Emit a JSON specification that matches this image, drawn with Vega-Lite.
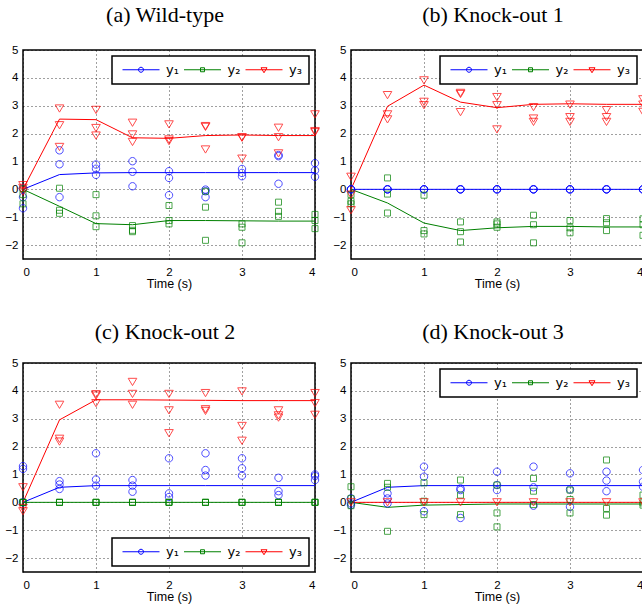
{
"$schema": "https://vega.github.io/schema/vega-lite/v6.json",
"background": "white",
"padding": {"left": 4, "top": 3, "right": 5, "bottom": 5},
"bounds": "flush",
"columns": 2,
"spacing": {"row": 104, "column": 36},
"config": {
  "view": {"stroke": "black", "strokeWidth": 1.5},
  "axis": {"grid": true, "gridColor": "black", "gridDash": [1, 3], "gridOpacity": 0.75, "gridWidth": 1, "ticks": false, "domain": false, "labelFont": "Liberation Sans", "labelFontSize": 11.5, "labelColor": "black", "titleFont": "Liberation Sans", "titleFontSize": 12.5, "titleFontWeight": "normal", "titleColor": "black", "labelOverlap": false},
  "axisX": {"labelPadding": 7, "titlePadding": 0},
  "axisY": {"labelPadding": 5},
  "title": {"font": "Liberation Serif", "fontSize": 22, "fontWeight": "normal", "color": "black", "frame": "group", "anchor": "middle", "baseline": "alphabetic", "dx": -4},
  "legend": {"title": null, "direction": "horizontal", "padding": 7, "strokeColor": "black", "strokeWidth": 1.5, "fillColor": "white", "symbolSize": 25, "symbolStrokeWidth": 1, "symbolFillColor": "transparent", "labelOffset": 34, "columnPadding": 1.5, "labelFont": "DejaVu Sans", "labelFontSize": 13, "labelColor": "black", "offset": 6, "zindex": 1}
},
"datasets": {
"fit": [
{"p":"a","s":"y1","t":0,"v":0},{"p":"a","s":"y1","t":0.5,"v":0.53},{"p":"a","s":"y1","t":1,"v":0.59},{"p":"a","s":"y1","t":1.5,"v":0.6},{"p":"a","s":"y1","t":2,"v":0.6},{"p":"a","s":"y1","t":2.5,"v":0.6},{"p":"a","s":"y1","t":3,"v":0.6},{"p":"a","s":"y1","t":3.5,"v":0.6},{"p":"a","s":"y1","t":4,"v":0.6},
{"p":"a","s":"y2","t":0,"v":0},{"p":"a","s":"y2","t":0.5,"v":-0.61},{"p":"a","s":"y2","t":1,"v":-1.23},{"p":"a","s":"y2","t":1.5,"v":-1.27},{"p":"a","s":"y2","t":2,"v":-1.12},{"p":"a","s":"y2","t":2.5,"v":-1.12},{"p":"a","s":"y2","t":3,"v":-1.13},{"p":"a","s":"y2","t":3.5,"v":-1.14},{"p":"a","s":"y2","t":4,"v":-1.14},
{"p":"a","s":"y3","t":0,"v":0},{"p":"a","s":"y3","t":0.5,"v":2.52},{"p":"a","s":"y3","t":1,"v":2.5},{"p":"a","s":"y3","t":1.5,"v":1.85},{"p":"a","s":"y3","t":2,"v":1.83},{"p":"a","s":"y3","t":2.5,"v":1.93},{"p":"a","s":"y3","t":3,"v":1.95},{"p":"a","s":"y3","t":3.5,"v":1.93},{"p":"a","s":"y3","t":4,"v":1.93},
{"p":"b","s":"y1","t":0,"v":0},{"p":"b","s":"y1","t":0.5,"v":0},{"p":"b","s":"y1","t":1,"v":0},{"p":"b","s":"y1","t":1.5,"v":0},{"p":"b","s":"y1","t":2,"v":0},{"p":"b","s":"y1","t":2.5,"v":0},{"p":"b","s":"y1","t":3,"v":0},{"p":"b","s":"y1","t":3.5,"v":0},{"p":"b","s":"y1","t":4,"v":0},
{"p":"b","s":"y2","t":0,"v":0},{"p":"b","s":"y2","t":0.5,"v":-0.49},{"p":"b","s":"y2","t":1,"v":-1.21},{"p":"b","s":"y2","t":1.5,"v":-1.48},{"p":"b","s":"y2","t":2,"v":-1.38},{"p":"b","s":"y2","t":2.5,"v":-1.33},{"p":"b","s":"y2","t":3,"v":-1.33},{"p":"b","s":"y2","t":3.5,"v":-1.35},{"p":"b","s":"y2","t":4,"v":-1.35},
{"p":"b","s":"y3","t":0,"v":0},{"p":"b","s":"y3","t":0.5,"v":2.98},{"p":"b","s":"y3","t":1,"v":3.74},{"p":"b","s":"y3","t":1.5,"v":3.13},{"p":"b","s":"y3","t":2,"v":2.93},{"p":"b","s":"y3","t":2.5,"v":3.05},{"p":"b","s":"y3","t":3,"v":3.07},{"p":"b","s":"y3","t":3.5,"v":3.05},{"p":"b","s":"y3","t":4,"v":3.05},
{"p":"c","s":"y1","t":0,"v":0},{"p":"c","s":"y1","t":0.5,"v":0.54},{"p":"c","s":"y1","t":1,"v":0.6},{"p":"c","s":"y1","t":1.5,"v":0.6},{"p":"c","s":"y1","t":2,"v":0.6},{"p":"c","s":"y1","t":2.5,"v":0.6},{"p":"c","s":"y1","t":3,"v":0.6},{"p":"c","s":"y1","t":3.5,"v":0.6},{"p":"c","s":"y1","t":4,"v":0.6},
{"p":"c","s":"y2","t":0,"v":0},{"p":"c","s":"y2","t":0.5,"v":0},{"p":"c","s":"y2","t":1,"v":0},{"p":"c","s":"y2","t":1.5,"v":0},{"p":"c","s":"y2","t":2,"v":0},{"p":"c","s":"y2","t":2.5,"v":0},{"p":"c","s":"y2","t":3,"v":0},{"p":"c","s":"y2","t":3.5,"v":0},{"p":"c","s":"y2","t":4,"v":0},
{"p":"c","s":"y3","t":0,"v":0},{"p":"c","s":"y3","t":0.5,"v":2.96},{"p":"c","s":"y3","t":1,"v":3.68},{"p":"c","s":"y3","t":1.5,"v":3.68},{"p":"c","s":"y3","t":2,"v":3.67},{"p":"c","s":"y3","t":2.5,"v":3.66},{"p":"c","s":"y3","t":3,"v":3.65},{"p":"c","s":"y3","t":3.5,"v":3.65},{"p":"c","s":"y3","t":4,"v":3.65},
{"p":"d","s":"y1","t":0,"v":0},{"p":"d","s":"y1","t":0.5,"v":0.54},{"p":"d","s":"y1","t":1,"v":0.6},{"p":"d","s":"y1","t":1.5,"v":0.6},{"p":"d","s":"y1","t":2,"v":0.6},{"p":"d","s":"y1","t":2.5,"v":0.6},{"p":"d","s":"y1","t":3,"v":0.6},{"p":"d","s":"y1","t":3.5,"v":0.6},{"p":"d","s":"y1","t":4,"v":0.6},
{"p":"d","s":"y2","t":0,"v":0},{"p":"d","s":"y2","t":0.5,"v":-0.18},{"p":"d","s":"y2","t":1,"v":-0.1},{"p":"d","s":"y2","t":1.5,"v":-0.08},{"p":"d","s":"y2","t":2,"v":-0.06},{"p":"d","s":"y2","t":2.5,"v":-0.06},{"p":"d","s":"y2","t":3,"v":-0.06},{"p":"d","s":"y2","t":3.5,"v":-0.06},{"p":"d","s":"y2","t":4,"v":-0.06},
{"p":"d","s":"y3","t":0,"v":0},{"p":"d","s":"y3","t":0.5,"v":0},{"p":"d","s":"y3","t":1,"v":0},{"p":"d","s":"y3","t":1.5,"v":0},{"p":"d","s":"y3","t":2,"v":0},{"p":"d","s":"y3","t":2.5,"v":0},{"p":"d","s":"y3","t":3,"v":0},{"p":"d","s":"y3","t":3.5,"v":0},{"p":"d","s":"y3","t":4,"v":0}
],
"pts": [
{"p":"a","s":"y1","t":0,"v":0.03},{"p":"a","s":"y1","t":0,"v":-0.28},{"p":"a","s":"y1","t":0,"v":-0.68},
{"p":"a","s":"y1","t":0.5,"v":1.4},{"p":"a","s":"y1","t":0.5,"v":0.9},{"p":"a","s":"y1","t":0.5,"v":-0.28},
{"p":"a","s":"y1","t":1,"v":0.89},{"p":"a","s":"y1","t":1,"v":0.74},{"p":"a","s":"y1","t":1,"v":0.52},
{"p":"a","s":"y1","t":1.5,"v":1.01},{"p":"a","s":"y1","t":1.5,"v":0.63},{"p":"a","s":"y1","t":1.5,"v":0.11},
{"p":"a","s":"y1","t":2,"v":0.65},{"p":"a","s":"y1","t":2,"v":0.41},{"p":"a","s":"y1","t":2,"v":-0.21},
{"p":"a","s":"y1","t":2.5,"v":-0.01},{"p":"a","s":"y1","t":2.5,"v":-0.07},{"p":"a","s":"y1","t":2.5,"v":-0.28},
{"p":"a","s":"y1","t":3,"v":0.73},{"p":"a","s":"y1","t":3,"v":0.59},{"p":"a","s":"y1","t":3,"v":0.47},
{"p":"a","s":"y1","t":3.5,"v":1.23},{"p":"a","s":"y1","t":3.5,"v":1.19},{"p":"a","s":"y1","t":3.5,"v":0.2},
{"p":"a","s":"y1","t":4,"v":0.94},{"p":"a","s":"y1","t":4,"v":0.68},{"p":"a","s":"y1","t":4,"v":0.45},
{"p":"a","s":"y2","t":0,"v":0.02},{"p":"a","s":"y2","t":0,"v":-0.19},{"p":"a","s":"y2","t":0,"v":-0.52},
{"p":"a","s":"y2","t":0.5,"v":0.04},{"p":"a","s":"y2","t":0.5,"v":-0.75},{"p":"a","s":"y2","t":0.5,"v":-0.86},
{"p":"a","s":"y2","t":1,"v":-0.19},{"p":"a","s":"y2","t":1,"v":-0.95},{"p":"a","s":"y2","t":1,"v":-1.34},
{"p":"a","s":"y2","t":1.5,"v":-1.3},{"p":"a","s":"y2","t":1.5,"v":-1.47},{"p":"a","s":"y2","t":1.5,"v":-1.52},
{"p":"a","s":"y2","t":2,"v":-0.58},{"p":"a","s":"y2","t":2,"v":-1.12},{"p":"a","s":"y2","t":2,"v":-1.24},
{"p":"a","s":"y2","t":2.5,"v":-0.07},{"p":"a","s":"y2","t":2.5,"v":-0.64},{"p":"a","s":"y2","t":2.5,"v":-1.83},
{"p":"a","s":"y2","t":3,"v":-1.24},{"p":"a","s":"y2","t":3,"v":-1.36},{"p":"a","s":"y2","t":3,"v":-1.92},
{"p":"a","s":"y2","t":3.5,"v":-0.46},{"p":"a","s":"y2","t":3.5,"v":-0.79},{"p":"a","s":"y2","t":3.5,"v":-0.97},
{"p":"a","s":"y2","t":4,"v":-0.9},{"p":"a","s":"y2","t":4,"v":-1.12},{"p":"a","s":"y2","t":4,"v":-1.41},
{"p":"a","s":"y3","t":0,"v":0.15},{"p":"a","s":"y3","t":0,"v":0.05},{"p":"a","s":"y3","t":0,"v":-0.08},
{"p":"a","s":"y3","t":0.5,"v":2.9},{"p":"a","s":"y3","t":0.5,"v":2.3},{"p":"a","s":"y3","t":0.5,"v":1.52},
{"p":"a","s":"y3","t":1,"v":2.85},{"p":"a","s":"y3","t":1,"v":2.2},{"p":"a","s":"y3","t":1,"v":1.93},
{"p":"a","s":"y3","t":1.5,"v":2.39},{"p":"a","s":"y3","t":1.5,"v":1.97},{"p":"a","s":"y3","t":1.5,"v":1.7},
{"p":"a","s":"y3","t":2,"v":2.33},{"p":"a","s":"y3","t":2,"v":1.79},{"p":"a","s":"y3","t":2,"v":1.73},
{"p":"a","s":"y3","t":2.5,"v":2.27},{"p":"a","s":"y3","t":2.5,"v":2.24},{"p":"a","s":"y3","t":2.5,"v":1.43},
{"p":"a","s":"y3","t":3,"v":1.87},{"p":"a","s":"y3","t":3,"v":1.85},{"p":"a","s":"y3","t":3,"v":1.1},
{"p":"a","s":"y3","t":3.5,"v":2.21},{"p":"a","s":"y3","t":3.5,"v":1.87},{"p":"a","s":"y3","t":3.5,"v":1.29},
{"p":"a","s":"y3","t":4,"v":2.69},{"p":"a","s":"y3","t":4,"v":2.09},{"p":"a","s":"y3","t":4,"v":2.05},
{"p":"b","s":"y1","t":0,"v":0},{"p":"b","s":"y1","t":0,"v":0},{"p":"b","s":"y1","t":0,"v":0},
{"p":"b","s":"y1","t":0.5,"v":0},{"p":"b","s":"y1","t":0.5,"v":0},{"p":"b","s":"y1","t":0.5,"v":0},
{"p":"b","s":"y1","t":1,"v":0},{"p":"b","s":"y1","t":1,"v":0},{"p":"b","s":"y1","t":1,"v":0},
{"p":"b","s":"y1","t":1.5,"v":0},{"p":"b","s":"y1","t":1.5,"v":0},{"p":"b","s":"y1","t":1.5,"v":0},
{"p":"b","s":"y1","t":2,"v":0},{"p":"b","s":"y1","t":2,"v":0},{"p":"b","s":"y1","t":2,"v":0},
{"p":"b","s":"y1","t":2.5,"v":0},{"p":"b","s":"y1","t":2.5,"v":0},{"p":"b","s":"y1","t":2.5,"v":0},
{"p":"b","s":"y1","t":3,"v":0},{"p":"b","s":"y1","t":3,"v":0},{"p":"b","s":"y1","t":3,"v":0},
{"p":"b","s":"y1","t":3.5,"v":0},{"p":"b","s":"y1","t":3.5,"v":0},{"p":"b","s":"y1","t":3.5,"v":0},
{"p":"b","s":"y1","t":4,"v":0},{"p":"b","s":"y1","t":4,"v":0},{"p":"b","s":"y1","t":4,"v":0},
{"p":"b","s":"y2","t":0,"v":-0.19},{"p":"b","s":"y2","t":0,"v":-0.43},{"p":"b","s":"y2","t":0,"v":-0.52},
{"p":"b","s":"y2","t":0.5,"v":0.41},{"p":"b","s":"y2","t":0.5,"v":-0.17},{"p":"b","s":"y2","t":0.5,"v":-0.85},
{"p":"b","s":"y2","t":1,"v":-0.21},{"p":"b","s":"y2","t":1,"v":-1.48},{"p":"b","s":"y2","t":1,"v":-1.6},
{"p":"b","s":"y2","t":1.5,"v":-1.17},{"p":"b","s":"y2","t":1.5,"v":-1.52},{"p":"b","s":"y2","t":1.5,"v":-1.89},
{"p":"b","s":"y2","t":2,"v":-1.17},{"p":"b","s":"y2","t":2,"v":-1.24},{"p":"b","s":"y2","t":2,"v":-1.36},
{"p":"b","s":"y2","t":2.5,"v":-0.93},{"p":"b","s":"y2","t":2.5,"v":-1.27},{"p":"b","s":"y2","t":2.5,"v":-1.92},
{"p":"b","s":"y2","t":3,"v":-1.12},{"p":"b","s":"y2","t":3,"v":-1.38},{"p":"b","s":"y2","t":3,"v":-1.56},
{"p":"b","s":"y2","t":3.5,"v":-1.05},{"p":"b","s":"y2","t":3.5,"v":-1.2},{"p":"b","s":"y2","t":3.5,"v":-1.48},
{"p":"b","s":"y2","t":4,"v":-1.06},{"p":"b","s":"y2","t":4,"v":-1.27},{"p":"b","s":"y2","t":4,"v":-1.65},
{"p":"b","s":"y3","t":0,"v":0.45},{"p":"b","s":"y3","t":0,"v":-0.19},{"p":"b","s":"y3","t":0,"v":-0.75},
{"p":"b","s":"y3","t":0.5,"v":3.38},{"p":"b","s":"y3","t":0.5,"v":2.69},{"p":"b","s":"y3","t":0.5,"v":2.51},
{"p":"b","s":"y3","t":1,"v":3.91},{"p":"b","s":"y3","t":1,"v":3.14},{"p":"b","s":"y3","t":1,"v":3.02},
{"p":"b","s":"y3","t":1.5,"v":3.46},{"p":"b","s":"y3","t":1.5,"v":3.42},{"p":"b","s":"y3","t":1.5,"v":2.77},
{"p":"b","s":"y3","t":2,"v":3.31},{"p":"b","s":"y3","t":2,"v":3.02},{"p":"b","s":"y3","t":2,"v":2.15},
{"p":"b","s":"y3","t":2.5,"v":2.95},{"p":"b","s":"y3","t":2.5,"v":2.54},{"p":"b","s":"y3","t":2.5,"v":2.42},
{"p":"b","s":"y3","t":3,"v":3.04},{"p":"b","s":"y3","t":3,"v":2.59},{"p":"b","s":"y3","t":3,"v":2.42},
{"p":"b","s":"y3","t":3.5,"v":2.84},{"p":"b","s":"y3","t":3.5,"v":2.59},{"p":"b","s":"y3","t":3.5,"v":2.42},
{"p":"b","s":"y3","t":4,"v":3.23},{"p":"b","s":"y3","t":4,"v":3.04},{"p":"b","s":"y3","t":4,"v":2.78},
{"p":"c","s":"y1","t":0,"v":1.3},{"p":"c","s":"y1","t":0,"v":1.2},{"p":"c","s":"y1","t":0,"v":0},
{"p":"c","s":"y1","t":0.5,"v":0.76},{"p":"c","s":"y1","t":0.5,"v":0.64},{"p":"c","s":"y1","t":0.5,"v":0.48},
{"p":"c","s":"y1","t":1,"v":1.76},{"p":"c","s":"y1","t":1,"v":0.82},{"p":"c","s":"y1","t":1,"v":0.6},
{"p":"c","s":"y1","t":1.5,"v":0.8},{"p":"c","s":"y1","t":1.5,"v":0.6},{"p":"c","s":"y1","t":1.5,"v":0.38},
{"p":"c","s":"y1","t":2,"v":1.58},{"p":"c","s":"y1","t":2,"v":0.32},{"p":"c","s":"y1","t":2,"v":0.19},
{"p":"c","s":"y1","t":2.5,"v":1.76},{"p":"c","s":"y1","t":2.5,"v":1.16},{"p":"c","s":"y1","t":2.5,"v":0.96},
{"p":"c","s":"y1","t":3,"v":1.58},{"p":"c","s":"y1","t":3,"v":1.22},{"p":"c","s":"y1","t":3,"v":0.96},
{"p":"c","s":"y1","t":3.5,"v":0.88},{"p":"c","s":"y1","t":3.5,"v":0.4},{"p":"c","s":"y1","t":3.5,"v":0.26},
{"p":"c","s":"y1","t":4,"v":1.0},{"p":"c","s":"y1","t":4,"v":0.94},{"p":"c","s":"y1","t":4,"v":0.8},
{"p":"c","s":"y2","t":0,"v":0},{"p":"c","s":"y2","t":0,"v":0},{"p":"c","s":"y2","t":0,"v":0},
{"p":"c","s":"y2","t":0.5,"v":0},{"p":"c","s":"y2","t":0.5,"v":0},{"p":"c","s":"y2","t":0.5,"v":0},
{"p":"c","s":"y2","t":1,"v":0},{"p":"c","s":"y2","t":1,"v":0},{"p":"c","s":"y2","t":1,"v":0},
{"p":"c","s":"y2","t":1.5,"v":0},{"p":"c","s":"y2","t":1.5,"v":0},{"p":"c","s":"y2","t":1.5,"v":0},
{"p":"c","s":"y2","t":2,"v":0},{"p":"c","s":"y2","t":2,"v":0},{"p":"c","s":"y2","t":2,"v":0},
{"p":"c","s":"y2","t":2.5,"v":0},{"p":"c","s":"y2","t":2.5,"v":0},{"p":"c","s":"y2","t":2.5,"v":0},
{"p":"c","s":"y2","t":3,"v":0},{"p":"c","s":"y2","t":3,"v":0},{"p":"c","s":"y2","t":3,"v":0},
{"p":"c","s":"y2","t":3.5,"v":0},{"p":"c","s":"y2","t":3.5,"v":0},{"p":"c","s":"y2","t":3.5,"v":0},
{"p":"c","s":"y2","t":4,"v":0},{"p":"c","s":"y2","t":4,"v":0},{"p":"c","s":"y2","t":4,"v":0},
{"p":"c","s":"y3","t":0,"v":0.54},{"p":"c","s":"y3","t":0,"v":-0.2},{"p":"c","s":"y3","t":0,"v":-0.32},
{"p":"c","s":"y3","t":0.5,"v":3.5},{"p":"c","s":"y3","t":0.5,"v":2.28},{"p":"c","s":"y3","t":0.5,"v":2.18},
{"p":"c","s":"y3","t":1,"v":3.88},{"p":"c","s":"y3","t":1,"v":3.83},{"p":"c","s":"y3","t":1,"v":3.56},
{"p":"c","s":"y3","t":1.5,"v":4.32},{"p":"c","s":"y3","t":1.5,"v":3.89},{"p":"c","s":"y3","t":1.5,"v":3.5},
{"p":"c","s":"y3","t":2,"v":3.89},{"p":"c","s":"y3","t":2,"v":3.3},{"p":"c","s":"y3","t":2,"v":2.48},
{"p":"c","s":"y3","t":2.5,"v":3.92},{"p":"c","s":"y3","t":2.5,"v":3.34},{"p":"c","s":"y3","t":2.5,"v":3.28},
{"p":"c","s":"y3","t":3,"v":3.98},{"p":"c","s":"y3","t":3,"v":2.74},{"p":"c","s":"y3","t":3,"v":2.21},
{"p":"c","s":"y3","t":3.5,"v":3.3},{"p":"c","s":"y3","t":3.5,"v":3.12},{"p":"c","s":"y3","t":3.5,"v":3.04},
{"p":"c","s":"y3","t":4,"v":3.92},{"p":"c","s":"y3","t":4,"v":3.56},{"p":"c","s":"y3","t":4,"v":3.14},
{"p":"d","s":"y1","t":0,"v":0.14},{"p":"d","s":"y1","t":0,"v":-0.04},{"p":"d","s":"y1","t":0,"v":-0.1},
{"p":"d","s":"y1","t":0.5,"v":0.32},{"p":"d","s":"y1","t":0.5,"v":0.14},{"p":"d","s":"y1","t":0.5,"v":-0.04},
{"p":"d","s":"y1","t":1,"v":1.28},{"p":"d","s":"y1","t":1,"v":0.92},{"p":"d","s":"y1","t":1,"v":-0.32},
{"p":"d","s":"y1","t":1.5,"v":0.5},{"p":"d","s":"y1","t":1.5,"v":0.44},{"p":"d","s":"y1","t":1.5,"v":-0.56},
{"p":"d","s":"y1","t":2,"v":1.1},{"p":"d","s":"y1","t":2,"v":0.62},{"p":"d","s":"y1","t":2,"v":0.44},
{"p":"d","s":"y1","t":2.5,"v":1.28},{"p":"d","s":"y1","t":2.5,"v":0.54},{"p":"d","s":"y1","t":2.5,"v":-0.12},
{"p":"d","s":"y1","t":3,"v":1.04},{"p":"d","s":"y1","t":3,"v":0.46},{"p":"d","s":"y1","t":3,"v":-0.16},
{"p":"d","s":"y1","t":3.5,"v":1.1},{"p":"d","s":"y1","t":3.5,"v":0.78},{"p":"d","s":"y1","t":3.5,"v":0.4},
{"p":"d","s":"y1","t":4,"v":1.16},{"p":"d","s":"y1","t":4,"v":0.74},{"p":"d","s":"y1","t":4,"v":0.56},
{"p":"d","s":"y2","t":0,"v":0.56},{"p":"d","s":"y2","t":0,"v":0.14},{"p":"d","s":"y2","t":0,"v":-0.12},
{"p":"d","s":"y2","t":0.5,"v":0.68},{"p":"d","s":"y2","t":0.5,"v":0.54},{"p":"d","s":"y2","t":0.5,"v":-1.04},
{"p":"d","s":"y2","t":1,"v":0.7},{"p":"d","s":"y2","t":1,"v":0.04},{"p":"d","s":"y2","t":1,"v":-0.44},
{"p":"d","s":"y2","t":1.5,"v":0.8},{"p":"d","s":"y2","t":1.5,"v":0.26},{"p":"d","s":"y2","t":1.5,"v":-0.44},
{"p":"d","s":"y2","t":2,"v":0.62},{"p":"d","s":"y2","t":2,"v":-0.38},{"p":"d","s":"y2","t":2,"v":-0.88},
{"p":"d","s":"y2","t":2.5,"v":0.86},{"p":"d","s":"y2","t":2.5,"v":0.4},{"p":"d","s":"y2","t":2.5,"v":-0.08},
{"p":"d","s":"y2","t":3,"v":0.44},{"p":"d","s":"y2","t":3,"v":0.1},{"p":"d","s":"y2","t":3,"v":-0.38},
{"p":"d","s":"y2","t":3.5,"v":1.52},{"p":"d","s":"y2","t":3.5,"v":-0.22},{"p":"d","s":"y2","t":3.5,"v":-0.46},
{"p":"d","s":"y2","t":4,"v":0.26},{"p":"d","s":"y2","t":4,"v":-0.1},{"p":"d","s":"y2","t":4,"v":-0.02},
{"p":"d","s":"y3","t":0,"v":0},{"p":"d","s":"y3","t":0.5,"v":0},{"p":"d","s":"y3","t":1,"v":0},{"p":"d","s":"y3","t":1.5,"v":0},{"p":"d","s":"y3","t":2,"v":0},{"p":"d","s":"y3","t":2.5,"v":0},{"p":"d","s":"y3","t":3,"v":0},{"p":"d","s":"y3","t":3.5,"v":0},{"p":"d","s":"y3","t":4,"v":0}
]
},
"concat": [
{
  "width": 292, "height": 209,
  "title": {"text": "(a) Wild-type", "offset": 17},
  "resolve": {"scale": {"color": "independent", "shape": "independent"}},
  "encoding": {
    "x": {"field": "t", "type": "quantitative", "scale": {"domain": [0, 4], "nice": false}, "axis": {"values": [0, 1, 2, 3, 4], "format": "d", "title": "Time (s)"}},
    "y": {"field": "v", "type": "quantitative", "scale": {"domain": [-2.5, 5], "nice": false}, "axis": {"values": [-2, -1, 0, 1, 2, 3, 4, 5], "format": "d", "title": null}}
  },
  "layer": [
    {"data": {"name": "fit"}, "transform": [{"filter": "datum.p == 'a'"}],
     "mark": {"type": "point", "opacity": 0, "filled": false, "size": 25, "clip": true},
     "encoding": {
       "color": {"field": "s", "type": "nominal", "scale": {"domain": ["y1", "y2", "y3"], "range": ["#0000ff", "#008000", "#ff0000"]}, "legend": {"orient": "top-right", "labelExpr": "datum.label == 'y1' ? 'y₁' : datum.label == 'y2' ? 'y₂' : 'y₃'"}},
       "shape": {"field": "s", "type": "nominal", "scale": {"domain": ["y1", "y2", "y3"], "range": ["M-1.2,0H13.6M7.2,0A1,1 0 1,1 5.2,0A1,1 0 1,1 7.2,0Z", "M-1.2,0H13.6M5.4,-0.8H7V0.8H5.4Z", "M-1.2,0H13.6M5,-0.8H7.4L6.2,1.2Z"]}, "legend": {"orient": "top-right", "labelExpr": "datum.label == 'y1' ? 'y₁' : datum.label == 'y2' ? 'y₂' : 'y₃'"}}
     }},
    {"data": {"name": "fit"}, "transform": [{"filter": "datum.p == 'a'"}],
     "mark": {"type": "line", "strokeWidth": 1},
     "encoding": {
       "color": {"field": "s", "type": "nominal", "scale": {"domain": ["y1", "y2", "y3"], "range": ["#0000ff", "#008000", "#ff0000"]}, "legend": null}
     }},
    {"data": {"name": "pts"}, "transform": [{"filter": "datum.p == 'a'"}],
     "mark": {"type": "point", "filled": false, "strokeWidth": 1, "size": 55},
     "encoding": {
       "color": {"field": "s", "type": "nominal", "scale": {"domain": ["y1", "y2", "y3"], "range": ["#0000ff", "#008000", "#ff0000"]}, "legend": null},
       "shape": {"field": "s", "type": "nominal", "scale": {"domain": ["y1", "y2", "y3"], "range": ["M1,0A1,1 0 1,1 -1,0A1,1 0 1,1 1,0Z", "M-0.81,-0.81H0.81V0.81H-0.81Z", "M-1.16,-0.98H1.16L0,0.98Z"]}, "legend": null}
     }}
  ]
},
{
  "width": 292, "height": 209,
  "title": {"text": "(b) Knock-out 1", "offset": 17},
  "resolve": {"scale": {"color": "independent", "shape": "independent"}},
  "encoding": {
    "x": {"field": "t", "type": "quantitative", "scale": {"domain": [0, 4], "nice": false}, "axis": {"values": [0, 1, 2, 3, 4], "format": "d", "title": "Time (s)"}},
    "y": {"field": "v", "type": "quantitative", "scale": {"domain": [-2.5, 5], "nice": false}, "axis": {"values": [-2, -1, 0, 1, 2, 3, 4, 5], "format": "d", "title": null}}
  },
  "layer": [
    {"data": {"name": "fit"}, "transform": [{"filter": "datum.p == 'b'"}],
     "mark": {"type": "point", "opacity": 0, "filled": false, "size": 25, "clip": true},
     "encoding": {
       "color": {"field": "s", "type": "nominal", "scale": {"domain": ["y1", "y2", "y3"], "range": ["#0000ff", "#008000", "#ff0000"]}, "legend": {"orient": "top-right", "labelExpr": "datum.label == 'y1' ? 'y₁' : datum.label == 'y2' ? 'y₂' : 'y₃'"}},
       "shape": {"field": "s", "type": "nominal", "scale": {"domain": ["y1", "y2", "y3"], "range": ["M-1.2,0H13.6M7.2,0A1,1 0 1,1 5.2,0A1,1 0 1,1 7.2,0Z", "M-1.2,0H13.6M5.4,-0.8H7V0.8H5.4Z", "M-1.2,0H13.6M5,-0.8H7.4L6.2,1.2Z"]}, "legend": {"orient": "top-right", "labelExpr": "datum.label == 'y1' ? 'y₁' : datum.label == 'y2' ? 'y₂' : 'y₃'"}}
     }},
    {"data": {"name": "fit"}, "transform": [{"filter": "datum.p == 'b'"}],
     "mark": {"type": "line", "strokeWidth": 1},
     "encoding": {
       "color": {"field": "s", "type": "nominal", "scale": {"domain": ["y1", "y2", "y3"], "range": ["#0000ff", "#008000", "#ff0000"]}, "legend": null}
     }},
    {"data": {"name": "pts"}, "transform": [{"filter": "datum.p == 'b'"}],
     "mark": {"type": "point", "filled": false, "strokeWidth": 1, "size": 55},
     "encoding": {
       "color": {"field": "s", "type": "nominal", "scale": {"domain": ["y1", "y2", "y3"], "range": ["#0000ff", "#008000", "#ff0000"]}, "legend": null},
       "shape": {"field": "s", "type": "nominal", "scale": {"domain": ["y1", "y2", "y3"], "range": ["M1,0A1,1 0 1,1 -1,0A1,1 0 1,1 1,0Z", "M-0.81,-0.81H0.81V0.81H-0.81Z", "M-1.16,-0.98H1.16L0,0.98Z"]}, "legend": null}
     }}
  ]
},
{
  "width": 292, "height": 209,
  "title": {"text": "(c) Knock-out 2", "offset": 13.5},
  "resolve": {"scale": {"color": "independent", "shape": "independent"}},
  "encoding": {
    "x": {"field": "t", "type": "quantitative", "scale": {"domain": [0, 4], "nice": false}, "axis": {"values": [0, 1, 2, 3, 4], "format": "d", "title": "Time (s)"}},
    "y": {"field": "v", "type": "quantitative", "scale": {"domain": [-2.5, 5], "nice": false}, "axis": {"values": [-2, -1, 0, 1, 2, 3, 4, 5], "format": "d", "title": null}}
  },
  "layer": [
    {"data": {"name": "fit"}, "transform": [{"filter": "datum.p == 'c'"}],
     "mark": {"type": "point", "opacity": 0, "filled": false, "size": 25, "clip": true},
     "encoding": {
       "color": {"field": "s", "type": "nominal", "scale": {"domain": ["y1", "y2", "y3"], "range": ["#0000ff", "#008000", "#ff0000"]}, "legend": {"orient": "bottom-right", "labelExpr": "datum.label == 'y1' ? 'y₁' : datum.label == 'y2' ? 'y₂' : 'y₃'"}},
       "shape": {"field": "s", "type": "nominal", "scale": {"domain": ["y1", "y2", "y3"], "range": ["M-1.2,0H13.6M7.2,0A1,1 0 1,1 5.2,0A1,1 0 1,1 7.2,0Z", "M-1.2,0H13.6M5.4,-0.8H7V0.8H5.4Z", "M-1.2,0H13.6M5,-0.8H7.4L6.2,1.2Z"]}, "legend": {"orient": "bottom-right", "labelExpr": "datum.label == 'y1' ? 'y₁' : datum.label == 'y2' ? 'y₂' : 'y₃'"}}
     }},
    {"data": {"name": "fit"}, "transform": [{"filter": "datum.p == 'c'"}],
     "mark": {"type": "line", "strokeWidth": 1},
     "encoding": {
       "color": {"field": "s", "type": "nominal", "scale": {"domain": ["y1", "y2", "y3"], "range": ["#0000ff", "#008000", "#ff0000"]}, "legend": null}
     }},
    {"data": {"name": "pts"}, "transform": [{"filter": "datum.p == 'c'"}],
     "mark": {"type": "point", "filled": false, "strokeWidth": 1, "size": 55},
     "encoding": {
       "color": {"field": "s", "type": "nominal", "scale": {"domain": ["y1", "y2", "y3"], "range": ["#0000ff", "#008000", "#ff0000"]}, "legend": null},
       "shape": {"field": "s", "type": "nominal", "scale": {"domain": ["y1", "y2", "y3"], "range": ["M1,0A1,1 0 1,1 -1,0A1,1 0 1,1 1,0Z", "M-0.81,-0.81H0.81V0.81H-0.81Z", "M-1.16,-0.98H1.16L0,0.98Z"]}, "legend": null}
     }}
  ]
},
{
  "width": 292, "height": 209,
  "title": {"text": "(d) Knock-out 3", "offset": 13.5},
  "resolve": {"scale": {"color": "independent", "shape": "independent"}},
  "encoding": {
    "x": {"field": "t", "type": "quantitative", "scale": {"domain": [0, 4], "nice": false}, "axis": {"values": [0, 1, 2, 3, 4], "format": "d", "title": "Time (s)"}},
    "y": {"field": "v", "type": "quantitative", "scale": {"domain": [-2.5, 5], "nice": false}, "axis": {"values": [-2, -1, 0, 1, 2, 3, 4, 5], "format": "d", "title": null}}
  },
  "layer": [
    {"data": {"name": "fit"}, "transform": [{"filter": "datum.p == 'd'"}],
     "mark": {"type": "point", "opacity": 0, "filled": false, "size": 25, "clip": true},
     "encoding": {
       "color": {"field": "s", "type": "nominal", "scale": {"domain": ["y1", "y2", "y3"], "range": ["#0000ff", "#008000", "#ff0000"]}, "legend": {"orient": "top-right", "labelExpr": "datum.label == 'y1' ? 'y₁' : datum.label == 'y2' ? 'y₂' : 'y₃'"}},
       "shape": {"field": "s", "type": "nominal", "scale": {"domain": ["y1", "y2", "y3"], "range": ["M-1.2,0H13.6M7.2,0A1,1 0 1,1 5.2,0A1,1 0 1,1 7.2,0Z", "M-1.2,0H13.6M5.4,-0.8H7V0.8H5.4Z", "M-1.2,0H13.6M5,-0.8H7.4L6.2,1.2Z"]}, "legend": {"orient": "top-right", "labelExpr": "datum.label == 'y1' ? 'y₁' : datum.label == 'y2' ? 'y₂' : 'y₃'"}}
     }},
    {"data": {"name": "fit"}, "transform": [{"filter": "datum.p == 'd'"}],
     "mark": {"type": "line", "strokeWidth": 1},
     "encoding": {
       "color": {"field": "s", "type": "nominal", "scale": {"domain": ["y1", "y2", "y3"], "range": ["#0000ff", "#008000", "#ff0000"]}, "legend": null}
     }},
    {"data": {"name": "pts"}, "transform": [{"filter": "datum.p == 'd'"}],
     "mark": {"type": "point", "filled": false, "strokeWidth": 1, "size": 55},
     "encoding": {
       "color": {"field": "s", "type": "nominal", "scale": {"domain": ["y1", "y2", "y3"], "range": ["#0000ff", "#008000", "#ff0000"]}, "legend": null},
       "shape": {"field": "s", "type": "nominal", "scale": {"domain": ["y1", "y2", "y3"], "range": ["M1,0A1,1 0 1,1 -1,0A1,1 0 1,1 1,0Z", "M-0.81,-0.81H0.81V0.81H-0.81Z", "M-1.16,-0.98H1.16L0,0.98Z"]}, "legend": null}
     }}
  ]
}
]
}
